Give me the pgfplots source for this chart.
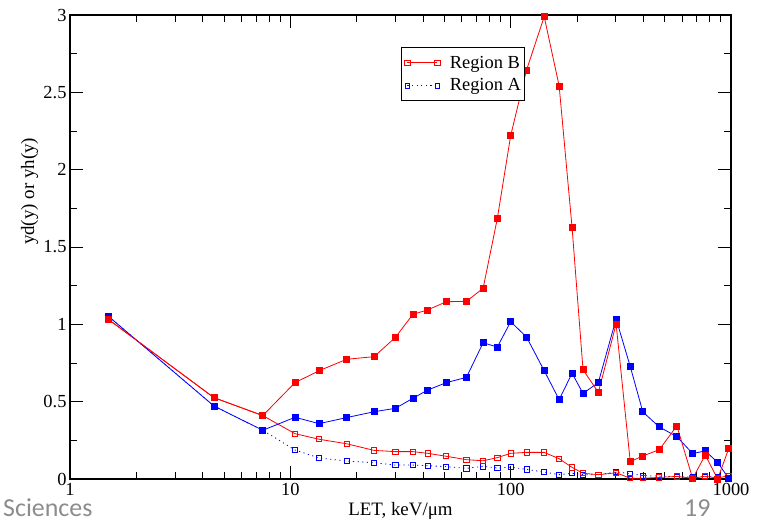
\documentclass[border=0pt]{standalone}
\usepackage{fontspec}
\setmainfont{Liberation Serif}
\newfontfamily\slidefont{Carlito}
\usepackage{pgfplots}
\usepackage{pgfplotstable}
\pgfplotsset{compat=1.18}

\definecolor{gred}{RGB}{255,0,0}
\definecolor{gblue}{RGB}{0,0,255}
\definecolor{slidegray}{RGB}{140,140,140}

% LET bins, keV/um
\pgfplotstableread{
x      bfill  afill  bopen  aopen
1.5    1.03   1.05   1.03   1.05
4.5    0.526  0.472  0.526  0.472
7.5    0.41   0.315  0.41   0.315
10.5   0.623  0.399  0.293  0.1875
13.5   0.700  0.358  0.257  0.136
18     0.774  0.397  0.228  0.116
24     0.791  0.435  0.185  0.105
30     0.916  0.457  0.177  0.090
36     1.065  0.522  0.177  0.090
42     1.093  0.575  0.166  0.086
51     1.146  0.623  0.147  0.080
63     1.149  0.657  0.125  0.069
75     1.233  0.881  0.118  0.082
87     1.685  0.853  0.138  0.071
100    2.22   1.017  0.166  0.077
118    2.644  0.918  0.172  0.062
142    2.989  0.700  0.172  0.045
166    2.541  0.513  0.131  0.028
190    1.625  0.684  0.075  0.037
213    0.707  0.553  0.037  0.028
250    0.560  0.624  0.028  0.028
301    1.002  1.035  0.040  0.045
349    0.112  0.727  0.005  0.035
398    0.149  0.434  0.005  0.022
472    0.189  0.337  0.010  0.018
568    0.343  0.274  0.017  0.015
670    0.003  0.164  0.004  0.012
764    0.155  0.182  0.018  0.015
870    0.000  0.107  0.006  0.015
976    0.196  0.004  0.022  0.020
}\datatab

\begin{document}
\begin{tikzpicture}
\begin{axis}[
    at={(0,0)}, anchor=south west,
    scale only axis,
    width=661bp, height=464bp,
    xmode=log,
    xmin=1, xmax=1000,
    ymin=0, ymax=3,
    xtick={1,10,100,1000},
    xticklabels={1,10,100,1000},
    ytick={0,0.5,1,1.5,2,2.5,3},
    yticklabels={0,0.5,1,1.5,2,2.5,3},
    minor y tick num=1,
    tick pos=both,
    tick align=inside,
    major tick length=13bp,
    minor tick length=7bp,
    every tick/.style={black, line width=0.9bp},
    axis line style={line width=1.2bp},
    clip=false,
    /pgf/number format/assume math mode=true,
    tick label style={font=\fontsize{18.5}{21}\selectfont},
    xticklabel style={yshift=-1bp},
    label style={font=\fontsize{19}{22}\selectfont},
    xlabel={LET, keV/μm},
    ylabel={yd(y) or yh(y)},
    xlabel style={at={(axis description cs:0.5,-0.069)}, anchor=center},
    ylabel style={at={(axis description cs:-0.061,0.62)}, anchor=center},
    legend style={at={(0.5,0.93)}, anchor=north west,
        draw=black, line width=1bp, fill=white,
        font=\fontsize{18.5}{21}\selectfont,
        inner xsep=2bp, inner ysep=6bp, row sep=5bp},
    legend cell align=left,
    legend image code/.code={%
        \path (-4bp,0bp) (40bp,0bp);
        \draw[mark repeat=1, mark phase=1, #1] plot coordinates {(0bp,0bp) (30bp,0bp)};},
]
\addplot[color=gblue, line width=0.8bp, mark=square, mark size=2.6bp,
    mark options={solid, line width=0.8bp, draw=gblue},
    dash pattern=on 1.2bp off 3.4bp, forget plot]
    table[x=x, y=aopen] {\datatab};
\addplot[color=gred, line width=0.8bp, mark=square, mark size=2.6bp,
    mark options={solid, line width=0.8bp, draw=gred}]
    table[x=x, y=bopen] {\datatab};
\addlegendentry{Region B}
\addlegendimage{color=gblue, line width=0.8bp, mark=square, mark size=2.4bp,
    mark options={solid, line width=0.8bp, draw=gblue},
    dash pattern=on 1.2bp off 3.4bp}
\addlegendentry{Region A}
\addplot[color=gblue, line width=0.8bp, mark=square*, mark size=3bp,
    mark options={solid}, forget plot]
    table[x=x, y=afill] {\datatab};
\addplot[color=gred, line width=0.8bp, mark=square*, mark size=3bp,
    mark options={solid}, forget plot]
    table[x=x, y=bfill] {\datatab};
\end{axis}
\node[anchor=base west, text=slidegray, inner sep=0pt,
    font=\slidefont\fontsize{26}{28}\selectfont] at (-67bp,-37bp) {Sciences};
\node[anchor=base west, text=slidegray, inner sep=0pt,
    font=\slidefont\fontsize{26}{28}\selectfont] at (614bp,-37bp) {19};
\pgfresetboundingbox
\path (-70bp,-43bp) rectangle (691bp,479bp);
\end{tikzpicture}
\end{document}
